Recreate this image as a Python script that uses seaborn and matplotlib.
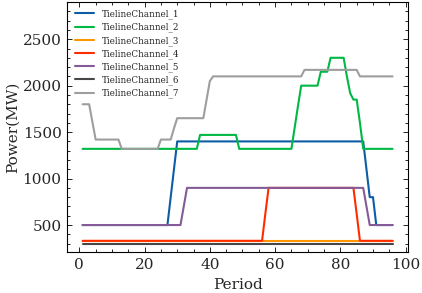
import numpy as np
import pandas as pd
import seaborn as sns
import matplotlib
matplotlib.use("Agg")
import matplotlib.pyplot as plt
from matplotlib.ticker import MultipleLocator

# periods and channel values
period = list(range(1, 97))
ch1 = [500] * 27 + [800, 1100] + [1400] * 58 + [1100, 800, 800] + [500] * 6
ch2 = ([1320] * 36 + [1470] * 12 + [1320] * 17 + [1550, 1780] + [2000] * 6
       + [2150] * 3 + [2300] * 5 + [2100, 1920, 1850, 1850] + [1600] + [1320] * 10)
ch3 = [330] * 96
ch4 = [330] * 56 + [620] + [900] * 27 + [620] + [330] * 11
ch5 = [500] * 31 + [700] + [900] * 55 + [700] + [500] * 8
ch6 = [300] * 96
ch7 = ([1800] * 3 + [1610] + [1420] * 8 + [1320] * 12 + [1420] * 4 + [1540]
       + [1650] * 9 + [1850, 2050] + [2100] * 28 + [2170] * 17 + [2100] * 11)

names = ['TielineChannel_%d' % i for i in range(1, 8)]
colors = ['#0C5DA5', '#00B945', '#FF9500', '#FF2C00', '#845B97', '#474747', '#9e9e9e']

df = pd.concat([pd.DataFrame({'Period': period, 'Power': v, 'channel': n})
                for n, v in zip(names, [ch1, ch2, ch3, ch4, ch5, ch6, ch7])])

sns.set_theme(style='ticks')
plt.rcParams['font.family'] = ['DejaVu Serif']
plt.rcParams['mathtext.fontset'] = 'dejavuserif'

fig = plt.figure(figsize=(4.22, 2.93), dpi=100)
ax = fig.add_axes([0.159, 0.140, 0.808, 0.853])
sns.lineplot(data=df, x='Period', y='Power', hue='channel', hue_order=names,
             palette=colors, linewidth=1.5, ax=ax)

ax.set_ylim(210, 2900)
ax.set_xlabel('Period', fontsize=11, labelpad=5)
ax.set_ylabel('Power(MW)', fontsize=11, labelpad=2)
ax.xaxis.set_major_locator(MultipleLocator(20))
ax.xaxis.set_minor_locator(MultipleLocator(5))
ax.yaxis.set_major_locator(MultipleLocator(500))
ax.yaxis.set_minor_locator(MultipleLocator(100))
ax.tick_params(which='both', direction='in', top=True, right=True,
               labelsize=11, width=0.6, color='black')
ax.tick_params(which='major', length=3.5, pad=4)
ax.tick_params(which='minor', length=2)
for s in ax.spines.values():
    s.set_linewidth(0.8)
    s.set_color('black')

ax.legend(loc='upper left', frameon=False, fontsize=6.3, labelspacing=0.4,
          handlelength=2.2, handletextpad=0.9, borderaxespad=0.45, title=None)

fig.savefig('out.png', dpi=100)
